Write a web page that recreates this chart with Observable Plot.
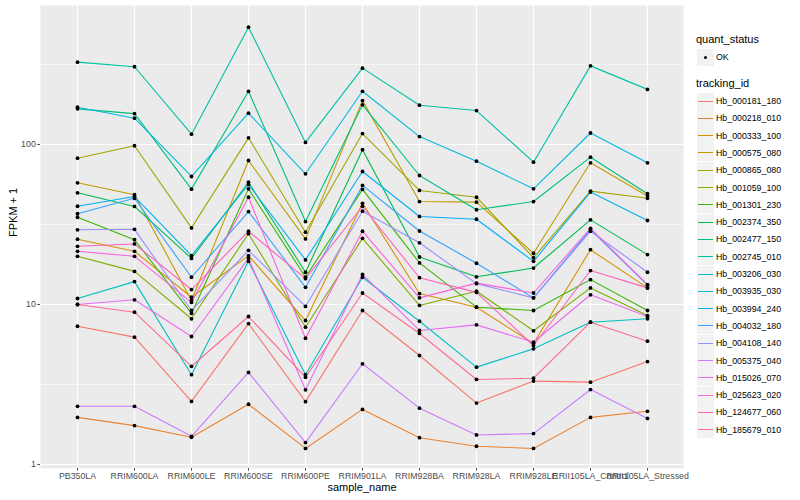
<!DOCTYPE html>
<html><head><meta charset="utf-8">
<script src="https://cdn.jsdelivr.net/npm/d3@7"></script>
<script src="https://cdn.jsdelivr.net/npm/@observablehq/plot@0.6"></script>
<style>
body{margin:0;background:#fff;font-family:"Liberation Sans",Arial,sans-serif;}
#wrap{position:relative;width:800px;height:500px;overflow:hidden;}
#chart{position:absolute;left:0;top:0;}
#legend{position:absolute;left:0;top:0;width:800px;height:500px;pointer-events:none;}
.lt{position:absolute;font-size:11px;color:#000;white-space:nowrap;line-height:1;}
.lk{position:absolute;width:17px;height:17px;background:#F2F2F2;}
.ll{position:absolute;left:1px;right:1px;top:8px;height:1.1px;}
.ld{position:absolute;left:6.6px;top:6.6px;width:3.8px;height:3.8px;border-radius:50%;background:#000;}
.lx{position:absolute;font-size:8.8px;color:#000;white-space:nowrap;line-height:1;}
</style></head><body>
<div id="wrap"><div id="chart"></div><div id="legend"></div></div>
<script>
const samples = ["PB350LA","RRIM600LA","RRIM600LE","RRIM600SE","RRIM600PE","RRIM901LA","RRIM928BA","RRIM928LA","RRIM928LE","RRII105LA_Control","RRII105LA_Stressed"];
const ids = ["Hb_000181_180","Hb_000218_010","Hb_000333_100","Hb_000575_080","Hb_000865_080","Hb_001059_100","Hb_001301_230","Hb_002374_350","Hb_002477_150","Hb_002745_010","Hb_003206_030","Hb_003935_030","Hb_003994_240","Hb_004032_180","Hb_004108_140","Hb_005375_040","Hb_015026_070","Hb_025623_020","Hb_124677_060","Hb_185679_010"];
const colors = ["#F8766D","#EA8331","#D89000","#C09B00","#A3A500","#7CAE00","#39B600","#00BB4E","#00BF7D","#00C1A3","#00BFC4","#00BAE0","#00B0F6","#35A2FF","#9590FF","#C77CFF","#E76BF3","#FA62DB","#FF62BC","#FF6C91"];
const majorBreaks = [1, 10, 100];
const minorBreaks = [3.162, 31.62, 316.2];
const quantStatus = ["OK"];

// FPKM + 1 per sample (order of samples)
const hb_000181_180 = [7.31, 6.25, 2.48, 7.60, 2.47, 9.17, 4.80, 2.42, 3.32, 3.27, 4.40];
const hb_000218_010 = [1.97, 1.75, 1.48, 2.38, 1.26, 2.21, 1.47, 1.30, 1.26, 1.97, 2.15];
const hb_000333_100 = [25.6, 21.5, 11.1, 20.2, 7.94, 42.9, 11.7, 9.62, 5.70, 22.0, 12.7];
const hb_000575_080 = [57.6, 48.5, 10.6, 79.4, 25.7, 188, 44.0, 43.6, 20.9, 76.8, 47.6];
const hb_000865_080 = [82.1, 98.2, 30.1, 110, 28.3, 117, 51.6, 46.8, 19.6, 51.1, 46.1];
const hb_001059_100 = [20.0, 16.1, 8.14, 27.7, 7.21, 25.9, 9.86, 12.1, 6.85, 12.7, 8.53];
const hb_001301_230 = [35.1, 25.4, 8.79, 52.8, 14.8, 52.4, 18.2, 9.62, 9.17, 14.3, 9.17];
const hb_002374_350 = [49.9, 41.0, 19.4, 58.1, 15.9, 92.7, 19.8, 14.9, 16.9, 33.8, 20.5];
const hb_002477_150 = [167, 156, 52.6, 215, 33.0, 177, 64.0, 39.1, 44.0, 83.3, 49.2];
const hb_002745_010 = [327, 306, 116, 541, 103, 300, 176, 163, 77.5, 310, 221];
const hb_003206_030 = [10.9, 13.9, 3.64, 18.6, 3.64, 14.8, 7.86, 4.06, 5.28, 7.75, 8.14];
const hb_003935_030 = [171, 146, 63.1, 157, 65.6, 215, 112, 78.6, 52.8, 118, 76.8];
const hb_003994_240 = [41.1, 47.3, 20.2, 56.2, 19.0, 67.8, 35.5, 34.1, 18.6, 50.4, 33.5];
const hb_004032_180 = [36.9, 46.1, 14.8, 38.1, 12.8, 55.5, 28.8, 18.1, 11.0, 29.4, 13.2];
const hb_004108_140 = [29.3, 29.5, 9.17, 21.8, 9.72, 38.3, 24.3, 13.5, 11.0, 28.7, 15.9];
const hb_005375_040 = [2.31, 2.31, 1.50, 3.76, 1.37, 4.26, 2.25, 1.53, 1.56, 2.94, 1.94];
const hb_015026_070 = [10.0, 10.7, 6.31, 19.4, 2.93, 15.4, 6.88, 7.46, 5.81, 11.5, 8.41];
const hb_025623_020 = [21.5, 20.0, 10.3, 46.8, 6.15, 28.7, 11.0, 13.6, 11.8, 29.9, 13.3];
const hb_124677_060 = [23.1, 23.9, 12.4, 28.7, 14.5, 41.1, 14.7, 11.9, 5.54, 16.3, 12.7];
const hb_185679_010 = [10.0, 8.95, 4.11, 8.41, 3.51, 11.8, 6.59, 3.40, 3.46, 7.75, 5.90];

const seriesValues = [hb_000181_180, hb_000218_010, hb_000333_100, hb_000575_080, hb_000865_080,
  hb_001059_100, hb_001301_230, hb_002374_350, hb_002477_150, hb_002745_010, hb_003206_030,
  hb_003935_030, hb_003994_240, hb_004032_180, hb_004108_140, hb_005375_040, hb_015026_070,
  hb_025623_020, hb_124677_060, hb_185679_010];

const rows = [];
ids.forEach((id, i) => {
  seriesValues[i].forEach((v, j) => rows.push({id, sample: samples[j], value: v, status: quantStatus[0]}));
});

const chart = Plot.plot({
  width: 690, height: 500,
  marginLeft: 40, marginRight: 7, marginTop: 5, marginBottom: 32,
  style: {fontFamily: "Liberation Sans, Arial, sans-serif", fontSize: "8.8px", background: "white", overflow: "visible"},
  x: {type: "point", domain: samples, padding: 0.6},
  y: {type: "log", domain: [0.944, 739]},
  color: {domain: ids, range: colors},
  marks: [
    Plot.frame({fill: "#EBEBEB", stroke: "none"}),
    Plot.ruleY(minorBreaks, {stroke: "white", strokeWidth: 0.55}),
    Plot.ruleY(majorBreaks, {stroke: "white", strokeWidth: 1.1}),
    Plot.ruleX(samples, {stroke: "white", strokeWidth: 1.1}),
    Plot.line(rows, {x: "sample", y: "value", z: "id", stroke: "id", strokeWidth: 1.1}),
    Plot.dot(rows, {x: "sample", y: "value", fill: "black", r: 1.9}),
    Plot.axisX({tickSize: 2.7, tickPadding: 2, color: "#4D4D4D", label: null, fontSize: 8.8}),
    Plot.axisY({ticks: majorBreaks, tickFormat: d => String(d), tickSize: 2.7, tickPadding: 2, color: "#4D4D4D", label: null, fontSize: 8.8}),
    Plot.text(["sample_name"], {text: d => d, frameAnchor: "bottom", dy: 22, fontSize: 11, fill: "black"}),
    Plot.text(["FPKM + 1"], {text: d => d, frameAnchor: "left", dx: -27, rotate: -90, fontSize: 11, fill: "black"})
  ]
});
document.getElementById("chart").appendChild(chart);

// Legend
const lg = document.getElementById("legend");
function el(cls, css, text) {
  const d = document.createElement("div");
  d.className = cls;
  Object.assign(d.style, css);
  if (text != null) d.textContent = text;
  lg.appendChild(d);
  return d;
}
el("lt", {left: "696px", top: "34px"}, "quant_status");
const k0 = el("lk", {left: "697px", top: "49px"});
const dot = document.createElement("div"); dot.className = "ld"; k0.appendChild(dot);
el("lx", {left: "716px", top: "53px"}, quantStatus[0]);
el("lt", {left: "696px", top: "78px"}, "tracking_id");
ids.forEach((id, i) => {
  const top = 92.5 + i * 17.3;
  const k = el("lk", {left: "697px", top: top + "px"});
  const l = document.createElement("div"); l.className = "ll"; l.style.background = colors[i]; k.appendChild(l);
  el("lx", {left: "716px", top: (top + 4.5) + "px"}, id);
});
</script>
</body></html>
